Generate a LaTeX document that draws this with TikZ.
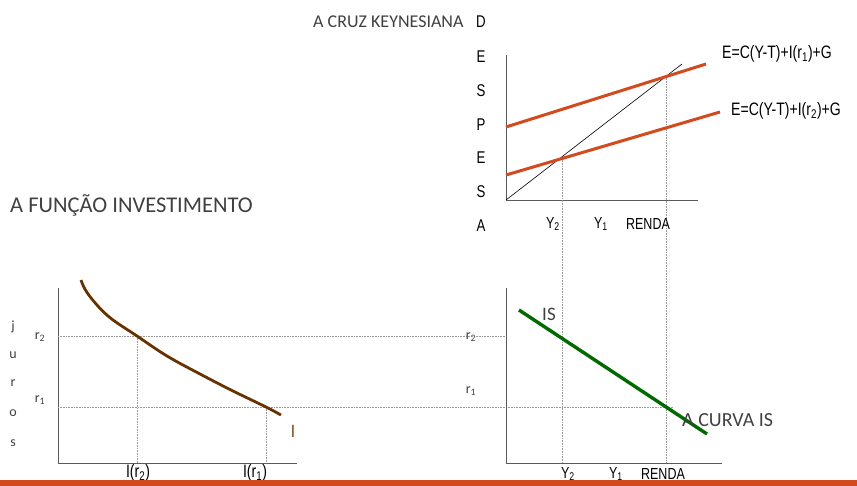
\documentclass[tikz,border=0pt]{standalone}
\usepackage{fontspec}
\setmainfont{Carlito}
\newfontfamily\narrowf{Liberation Sans}[FakeStretch=0.78]
\definecolor{txt}{HTML}{404040}
\definecolor{axisc}{HTML}{5A5A5A}
\definecolor{orng}{HTML}{D24A1E}
\definecolor{brwn}{HTML}{663300}
\definecolor{brwnl}{HTML}{8B5A2B}
\definecolor{grn}{HTML}{006A00}
\begin{document}
\begin{tikzpicture}[x=1pt,y=-1pt,
  axis/.style={draw=axisc,line width=0.9pt},
  guide/.style={draw=gray!80,densely dotted,line width=0.6pt},
  orline/.style={draw=orng,line width=3pt},
  lbl/.style={inner sep=0pt,text=txt},
  nlbl/.style={inner sep=0pt,text=black,font=\narrowf\fontsize{16}{16}\selectfont},
  sml/.style={inner sep=0pt,text=txt,font=\fontsize{14}{14}\selectfont},
  vlet/.style={inner sep=0pt,text=black,font=\narrowf\fontsize{17}{17}\selectfont}]
\useasboundingbox (0,0) rectangle (857,486);
% ---------- titles
\node[lbl,anchor=west,font=\fontsize{18}{18}\selectfont] (title) at (313,22) {A CRUZ KEYNESIANA};
\node[lbl,anchor=west,font=\fontsize{22.5}{22.5}\selectfont] (tfun) at (10,205) {A FUNÇÃO INVESTIMENTO};
% vertical DESPESA
\foreach \l/\yy [count=\i] in {D/22,E/57,S/91,P/125,E/158,S/192,A/226}
  \node[vlet] (v\i) at (481,\yy) {\l};
% ---------- top chart
\coordinate (to) at (506,200);
\coordinate (tt) at (506,55);
\coordinate (tr) at (698,200);
\draw[axis] (tt) -- (to) -- (tr);
\coordinate (y2t) at (562,158);
\coordinate (ynt) at (666,76);
\coordinate (y2b) at (562,463);
\coordinate (ynb) at (666,463);
\draw[guide] (y2t) -- (y2b);
\draw[guide] (ynt) -- (ynb);
\coordinate (d45) at (682,64);
\draw[black,line width=0.6pt] (to) -- (d45);
\coordinate (e1a) at (506,127);
\coordinate (e1b) at (706,64);
\coordinate (e2a) at (506,175);
\coordinate (e2b) at (720,112);
\draw[orline] (e1a) -- (e1b);
\draw[orline] (e2a) -- (e2b);
\node[nlbl,anchor=west,font=\narrowf\fontsize{18}{18}\selectfont] (eq1) at (722,54) {E=C(Y-T)+I(r\textsubscript{1})+G};
\node[nlbl,anchor=west,font=\narrowf\fontsize{18}{18}\selectfont] (eq2) at (731,111) {E=C(Y-T)+I(r\textsubscript{2})+G};
\node[nlbl] (ty2) at (553,224) {Y\textsubscript{2}};
\node[nlbl] (ty1) at (601,224) {Y\textsubscript{1}};
\node[nlbl] (tren) at (648,224) {RENDA};
% ---------- bottom-left chart
\coordinate (lo) at (58,463);
\coordinate (lt) at (58,288);
\coordinate (lr) at (297,463);
\draw[axis] (lt) -- (lo) -- (lr);
\coordinate (r2a) at (58,336);
\coordinate (r2b) at (506,336);
\coordinate (r1a) at (58,407);
\coordinate (r1b) at (673,407);
\draw[guide] (r2a) -- (r2b);
\draw[guide] (r1a) -- (r1b);
\coordinate (i2t) at (137,336);
\coordinate (i2b) at (137,463);
\coordinate (i1t) at (266,407);
\coordinate (i1b) at (266,463);
\draw[guide] (i2t) -- (i2b);
\draw[guide] (i1t) -- (i1b);
\draw[brwn,line width=2.8pt] plot[smooth,tension=0.6] coordinates
  {(81,280) (88,294) (108,316) (137,336) (167,356) (200,374) (233,391) (266,407) (281,415)};
\node[inner sep=0pt,text=brwnl,font=\fontsize{19}{19}\selectfont] (ilab) at (293,431) {I};
\foreach \l/\yy [count=\i] in {j/327,u/355,r/383,o/413,s/443}
  \node[sml] (j\i) at (13,\yy) {\l};
\node[sml] (lr2) at (40,337) {r\textsubscript{2}};
\node[sml] (lr1) at (40,400) {r\textsubscript{1}};
\node[nlbl,font=\narrowf\fontsize{18}{18}\selectfont] (ir2) at (138,473) {I(r\textsubscript{2})};
\node[nlbl,font=\narrowf\fontsize{18}{18}\selectfont] (ir1) at (255,473) {I(r\textsubscript{1})};
% ---------- bottom-right chart
\coordinate (bo) at (506,463);
\coordinate (bt) at (506,288);
\coordinate (br) at (722,463);
\draw[axis] (bt) -- (bo) -- (br);
\coordinate (isa) at (519,310);
\coordinate (isb) at (707,434);
\draw[grn,line width=3.4pt] (isa) -- (isb);
\node[lbl,font=\fontsize{19}{19}\selectfont] (islab) at (549,314) {IS};
\node[lbl,anchor=west,font=\fontsize{20}{20}\selectfont] (curva) at (682,420) {A CURVA IS};
\node[sml] (br2) at (471,337) {r\textsubscript{2}};
\node[sml] (br1) at (471,391) {r\textsubscript{1}};
\node[nlbl] (by2) at (568,474) {Y\textsubscript{2}};
\node[nlbl] (by1) at (616,474) {Y\textsubscript{1}};
\node[nlbl] (bren) at (663,474) {RENDA};
% ---------- bottom bar
\fill[orng] (0,480) rectangle (857,486);
\end{tikzpicture}
\end{document}
